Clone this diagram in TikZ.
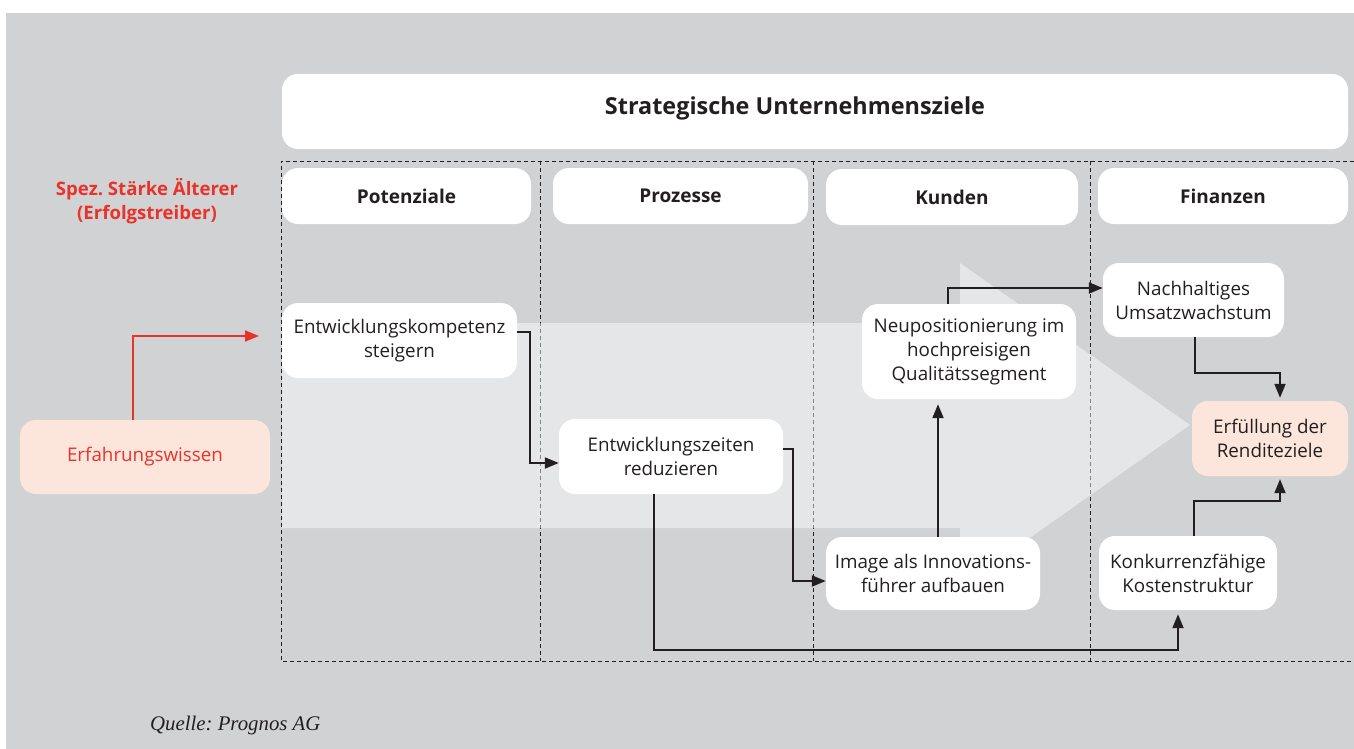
\documentclass[tikz,border=0pt]{standalone}
\usepackage{fontspec}
\setmainfont{Open Sans}
\newfontfamily\quellefont{Liberation Serif}
\usetikzlibrary{arrows.meta,calc}
\frenchspacing
\definecolor{bggray}{HTML}{D1D2D4}
\definecolor{peach}{HTML}{FCE6DC}
\definecolor{redtxt}{HTML}{E8332A}
\definecolor{darktxt}{HTML}{231F20}
\tikzset{
  box/.style={rectangle, rounded corners=16pt, fill=white, inner sep=0pt, align=center,
    text=darktxt, font=\fontsize{18.8}{24}\selectfont},
  hdr/.style={box, font=\bfseries\fontsize{19}{22}\selectfont},
  goal/.style={box, fill=peach},
  frame/.style={darktxt, line width=0.9pt, dash pattern=on 4pt off 3pt},
  arr/.style={darktxt, line width=2pt, -{Triangle[length=14pt,width=11pt]}},
  redarr/.style={redtxt, line width=1.6pt, -{Triangle[length=14pt,width=11pt]}},
  lbl/.style={inner sep=0pt, align=center}
}
\begin{document}
\begin{tikzpicture}[x=1pt,y=-1pt]
\useasboundingbox (0,0) rectangle (1354,749);
\fill[bggray] (6,13) rectangle (1354,749);
% dashed frame and column dividers
\draw[frame] (1354,161) -- (281,161) -- (281,661) -- (1354,661);
\draw[frame] (540,161) -- (540,661);
\draw[frame] (813,161) -- (813,661);
\draw[frame] (1090,161) -- (1090,661);
% big light arrow
\fill[white, fill opacity=0.45] (282,323) -- (960,323) -- (960,263) -- (1190,425) -- (960,587) -- (960,528) -- (282,528) -- cycle;
% top box
\node[box, minimum width=1066pt, minimum height=75pt] (top) at (815,111.5) {};
\node[lbl, text=darktxt, font=\bfseries\fontsize{23.4}{26}\selectfont] (toptext) at (795,108) {Strategische Unternehmensziele};
% headers
\node[hdr, minimum width=249pt, minimum height=56pt] (h1) at (406.5,196) {Potenziale};
\node[hdr, minimum width=255pt, minimum height=56pt] (h2) at (680.5,196) {Prozesse};
\node[hdr, minimum width=252pt, minimum height=56pt] (h3) at (952,197) {Kunden};
\node[hdr, minimum width=250pt, minimum height=56pt] (h4) at (1223,196) {Finanzen};
% red label
\node[lbl, text=redtxt, font=\bfseries\fontsize{18.6}{24}\selectfont] (spez) at (147,201) {Spez. Stärke Älterer\\(Erfolgstreiber)};
% content nodes
\node[goal, text=redtxt, minimum width=250pt, minimum height=74pt] (ew) at (145,457) {Erfahrungswissen};
\node[box, minimum width=235pt, minimum height=75pt] (ek) at (399.5,340.5) {Entwicklungskompetenz\\steigern};
\node[box, minimum width=224pt, minimum height=75pt] (ez) at (671,456.5) {Entwicklungszeiten\\reduzieren};
\node[box, minimum width=214pt, minimum height=73pt] (im) at (933,573.5) {Image als Innovations-\\führer aufbauen};
\node[box, minimum width=214pt, minimum height=95pt] (np) at (969,351.5) {Neupositionierung im\\hochpreisigen\\Qualitätssegment};
\node[box, minimum width=181pt, minimum height=74pt] (nu) at (1193.5,300) {Nachhaltiges\\Umsatzwachstum};
\node[goal, minimum width=156pt, minimum height=75pt] (er) at (1270,438.5) {Erfüllung der\\Renditeziele};
\node[box, minimum width=178pt, minimum height=74pt] (kk) at (1188,573) {Konkurrenzfähige\\Kostenstruktur};
% connectors
\coordinate (redend) at (259,336);
\draw[redarr] ($(ew.north)+(-12,0)$) |- (redend);
\draw[arr] ($(ek.east)+(0,-8.5)$) -- ++(13,0) |- ($(ez.west)+(0,6.5)$);
\draw[arr] ($(ez.east)+(0,-7.5)$) -- ++(10,0) |- ($(im.west)+(0,7.5)$);
\draw[arr, shorten >=4pt] ($(ez.south)+(-17,0)$) -- ++(0,156) -| ($(kk.south)+(-10,0)$);
\draw[arr, shorten >=5pt] ($(im.north)+(5,0)$) coordinate (a1) -- (a1 |- np.south);
\draw[arr] ($(np.north)+(-21,0)$) |- ($(nu.west)+(0,-12)$);
\draw[arr, shorten >=3pt] ($(nu.south)+(1.5,0)$) -- ++(0,36) -| ($(er.north)+(10,0)$);
\draw[arr, shorten >=3pt] ($(kk.north)+(6,0)$) -- ++(0,-35) -| ($(er.south)+(10,0)$);
% source
\node[lbl, anchor=west, text=darktxt, font=\quellefont\itshape\fontsize{20.8}{24}\selectfont] (quelle) at (150,725) {Quelle: Prognos AG};
\end{tikzpicture}
\end{document}
